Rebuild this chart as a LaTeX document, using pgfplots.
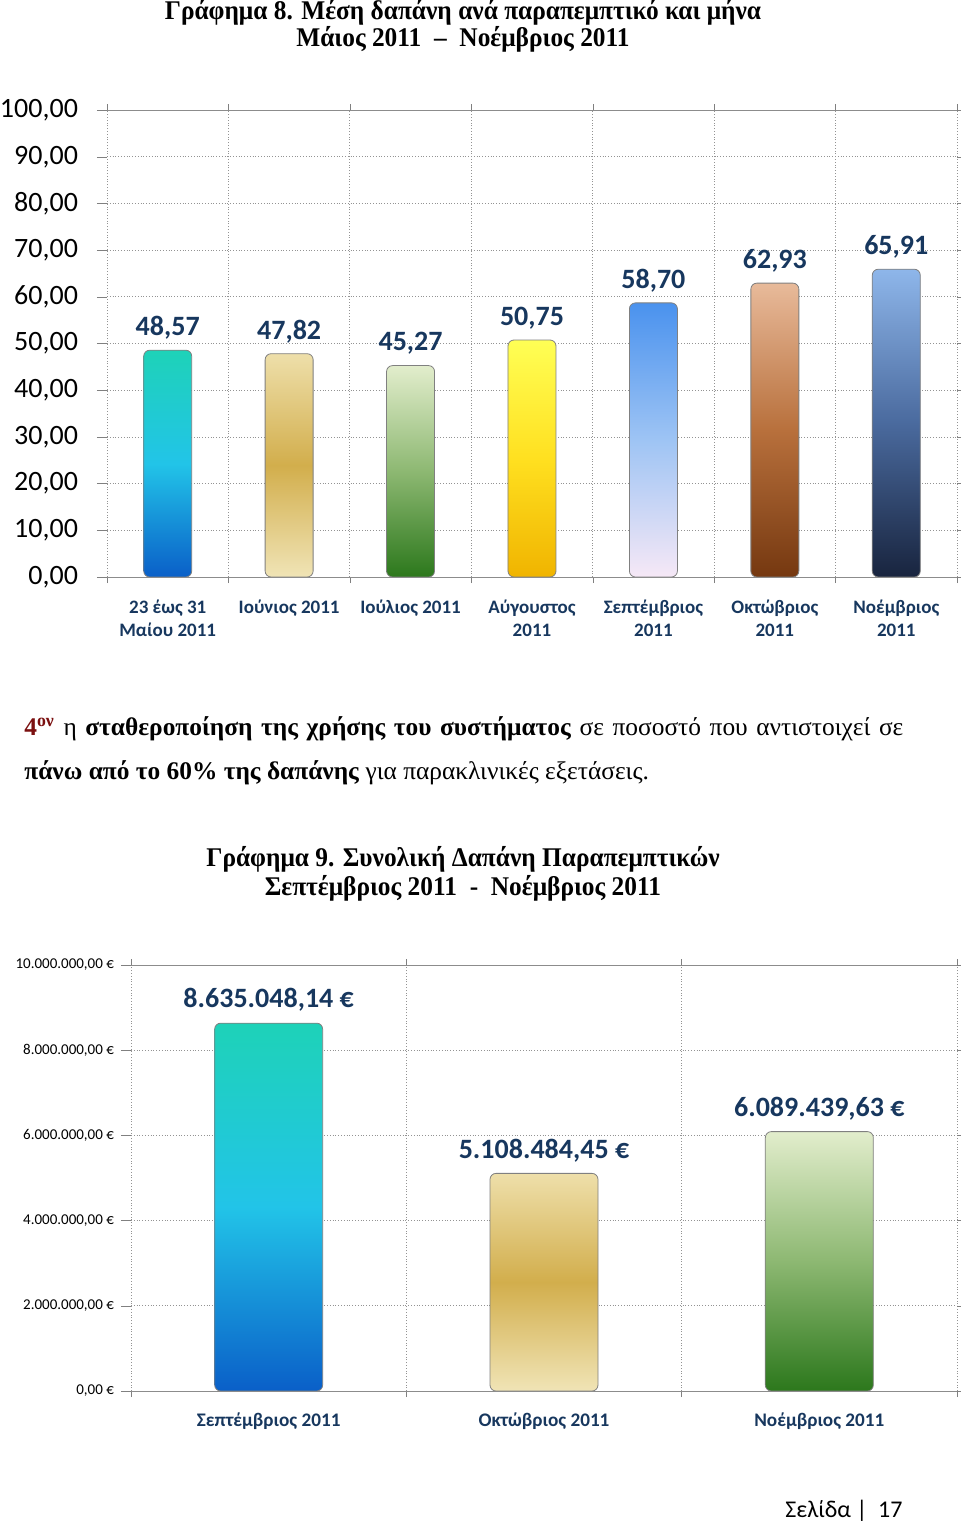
\documentclass[border=0pt]{standalone}
\usepackage{fontspec}
\setmainfont{Liberation Serif}
\newfontfamily\calfont{Carlito}
\newfontfamily\narrow{Liberation Serif}[FakeStretch=0.94]
\usepackage{pgfplots}
\pgfplotsset{compat=1.18}

\definecolor{navy}{HTML}{17375E}
\definecolor{darkred}{HTML}{7B1010}
% bar shadings: top / middle / bottom
\definecolor{aT}{HTML}{1ED2B8}\definecolor{aM}{HTML}{22C4E8}\definecolor{aB}{HTML}{0A5FC8}
\definecolor{bT}{HTML}{EEDFAA}\definecolor{bM}{HTML}{D2AE4C}\definecolor{bB}{HTML}{F0E4B6}
\definecolor{cT}{HTML}{E2EDCC}\definecolor{cM}{HTML}{8DB872}\definecolor{cB}{HTML}{2C781C}
\definecolor{dT}{HTML}{FFFF55}\definecolor{dM}{HTML}{FFE020}\definecolor{dB}{HTML}{F0B400}
\definecolor{eT}{HTML}{4A92EE}\definecolor{eM}{HTML}{9EC4F4}\definecolor{eB}{HTML}{F6E8F6}
\definecolor{fT}{HTML}{E8BA9A}\definecolor{fM}{HTML}{B8703C}\definecolor{fB}{HTML}{753810}
\definecolor{gT}{HTML}{8EB6EA}\definecolor{gM}{HTML}{4A6A9E}\definecolor{gB}{HTML}{18243E}

\pgfplotsset{
  shbar/.style={ybar, bar shift=0pt, top color=#1T, bottom color=#1B, middle color=#1M,
    draw=black!50, thin, rounded corners=3pt},
  common/.style={
    scale only axis, anchor=south west,
    axis line style={draw=none},
    ymajorgrids, xminorgrids,
    grid style={densely dotted, gray!85},
    minor grid style={densely dotted, gray!85},
    tick align=outside,
    every major x tick/.append style={draw=none},
    every minor x tick/.append style={gray},
    ytick style={gray},
    major tick length=5pt, minor tick length=3pt,
    point meta=explicit symbolic, nodes near coords,
    /pgf/number format/assume math mode=true,
  },
}

\begin{document}
\begin{tikzpicture}
\useasboundingbox (0,0) rectangle (480pt,-760.5pt);

% Titles and text
\node[anchor=base, inner sep=0pt, font=\narrow\bfseries\fontsize{13.5}{14}\selectfont] at (231.5pt,-9.8pt)
  {Γράφημα 8. Μέση δαπάνη ανά παραπεμπτικό και μήνα};
\node[anchor=base, inner sep=0pt, font=\narrow\bfseries\fontsize{13.5}{14}\selectfont] at (231.5pt,-23.3pt)
  {Μάιος 2011 \ – \ Νοέμβριος 2011};

\node[anchor=base west, inner sep=0pt, font=\fontsize{12.7}{14}\selectfont] at (12pt,-367.5pt)
  {\makebox[439.5pt][s]{\textcolor{darkred}{\textbf{4}\textsuperscript{\textbf{ον}}} η \textbf{σταθεροποίηση της χρήσης του συστήματος} σε ποσοστό που αντιστοιχεί σε}};
\node[anchor=base west, inner sep=0pt, font=\fontsize{12.7}{14}\selectfont] at (12pt,-389.5pt)
  {\textbf{πάνω από το 60\% της δαπάνης} για παρακλινικές εξετάσεις.};

\node[anchor=base, inner sep=0pt, font=\narrow\bfseries\fontsize{13.5}{14}\selectfont] at (231.5pt,-433pt)
  {Γράφημα 9. Συνολική Δαπάνη Παραπεμπτικών};
\node[anchor=base, inner sep=0pt, font=\narrow\bfseries\fontsize{13.5}{14}\selectfont] at (231.5pt,-447.5pt)
  {Σεπτέμβριος 2011 \ - \ Νοέμβριος 2011};

\node[anchor=base east, inner sep=0pt, font=\calfont\fontsize{12}{12}\selectfont] at (451.5pt,-758.5pt)
  {Σελίδα |\ \ 17};

% Chart 8
\begin{axis}[common,
  at={(53.5pt,-288.5pt)}, width=425pt, height=233.5pt,
  xmin=-0.5, xmax=6.5, ymin=0, ymax=100,
  ytick={0,10,...,100},
  yticklabel style={font=\calfont\fontsize{14}{14}\selectfont, xshift=-6pt,
    /pgf/number format/.cd, fixed, fixed zerofill, precision=2, use comma},
  xtick={0,...,6}, minor xtick={-0.5,0.5,...,6.5},
  xticklabels={{23 έως 31\\Μαίου 2011},{Ιούνιος 2011},{Ιούλιος 2011},{Αύγουστος\\2011},
    {Σεπτέμβριος\\2011},{Οκτώβριος\\2011},{Νοέμβριος\\2011}},
  xticklabel style={font=\calfont\bfseries\fontsize{9.5}{11.5}\selectfont, text=navy,
    align=center, anchor=north, yshift=-3pt},
  bar width=24pt,
  nodes near coords style={font=\calfont\bfseries\fontsize{14}{14}\selectfont, text=navy,
    anchor=center, yshift=11pt},
]
\addplot[shbar=a] coordinates {(0,48.57) [48,57]};
\addplot[shbar=b] coordinates {(1,47.82) [47,82]};
\addplot[shbar=c] coordinates {(2,45.27) [45,27]};
\addplot[shbar=d] coordinates {(3,50.75) [50,75]};
\addplot[shbar=e] coordinates {(4,58.70) [58,70]};
\addplot[shbar=f] coordinates {(5,62.93) [62,93]};
\addplot[shbar=g] coordinates {(6,65.91) [65,91]};
\draw[gray!90] (rel axis cs:0,1) -- (rel axis cs:1,1);
\draw[gray!90] (rel axis cs:0,0) -- (rel axis cs:1,0);
\end{axis}

% Chart 9
\begin{axis}[common,
  at={(65.5pt,-695.5pt)}, width=413pt, height=213pt,
  xmin=-0.5, xmax=2.5, ymin=0, ymax=10000000,
  scaled y ticks=false,
  ytick={0,2000000,4000000,6000000,8000000,10000000},
  yticklabels={{0,00 €},{2.000.000,00 €},{4.000.000,00 €},{6.000.000,00 €},{8.000.000,00 €},{10.000.000,00 €}},
  yticklabel style={font=\calfont\fontsize{7.5}{8}\selectfont},
  xtick={0,1,2}, minor xtick={-0.5,0.5,1.5,2.5},
  xticklabels={Σεπτέμβριος 2011,Οκτώβριος 2011,Νοέμβριος 2011},
  xticklabel style={font=\calfont\bfseries\fontsize{9.6}{12}\selectfont, text=navy, yshift=-2.5pt},
  bar width=54pt,
  nodes near coords style={font=\calfont\bfseries\fontsize{14}{14}\selectfont, text=navy,
    anchor=center, yshift=11.5pt},
]
\addplot[shbar=a] coordinates {(0,8635048.14) [8.635.048,14 €]};
\addplot[shbar=b] coordinates {(1,5108484.45) [5.108.484,45 €]};
\addplot[shbar=c] coordinates {(2,6089439.63) [6.089.439,63 €]};
\draw[gray!90] (rel axis cs:0,1) -- (rel axis cs:1,1);
\draw[gray!90] (rel axis cs:0,0) -- (rel axis cs:1,0);
\end{axis}
\end{tikzpicture}
\end{document}
